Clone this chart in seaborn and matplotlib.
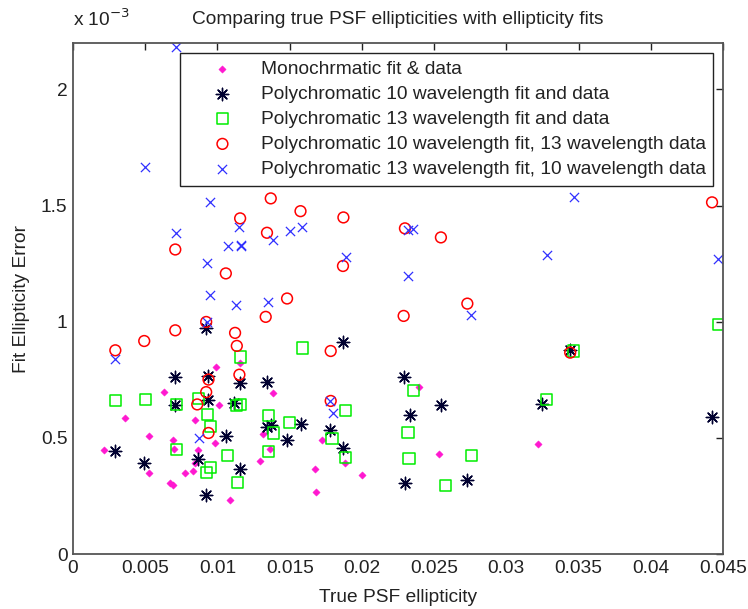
import matplotlib
matplotlib.use("Agg")
import matplotlib.pyplot as plt
import seaborn as sns

# ---- data (y values in units of 1e-3) ----
mono_x = [0.00217, 0.00362, 0.00528, 0.00528, 0.00631, 0.00673, 0.0069, 0.00692, 0.00696, 0.00777,
          0.0083, 0.00846, 0.00846, 0.00862, 0.00984, 0.00991, 0.01008, 0.01088, 0.01155, 0.01293,
          0.01316, 0.01362, 0.01385, 0.01674, 0.0168, 0.01724, 0.01886, 0.02001, 0.02395, 0.02533, 0.0322]
mono_y = [0.446, 0.587, 0.506, 0.350, 0.697, 0.307, 0.295, 0.489, 0.453, 0.350,
          0.356, 0.575, 0.391, 0.446, 0.478, 0.805, 0.643, 0.231, 0.822, 0.399,
          0.515, 0.450, 0.693, 0.364, 0.269, 0.489, 0.391, 0.338, 0.719, 0.429, 0.472]

p10_x = [0.00293, 0.00493, 0.00708, 0.00708, 0.00862, 0.00922, 0.00922, 0.00938, 0.00938, 0.0106,
         0.01118, 0.01153, 0.01157, 0.0134, 0.01344, 0.01374, 0.01482, 0.01575, 0.01782, 0.01869,
         0.01869, 0.02289, 0.023, 0.02335, 0.0255, 0.0273, 0.03246, 0.03444, 0.04424]
p10_y = [0.443, 0.391, 0.762, 0.640, 0.407, 0.971, 0.256, 0.765, 0.665, 0.506,
         0.652, 0.736, 0.364, 0.547, 0.741, 0.554, 0.489, 0.558, 0.532, 0.913,
         0.458, 0.762, 0.307, 0.597, 0.643, 0.317, 0.644, 0.877, 0.590]

p13_x = [0.00293, 0.0050, 0.00714, 0.00714, 0.00869, 0.00922, 0.00931, 0.0095, 0.0095, 0.0107,
         0.01129, 0.01139, 0.01162, 0.01162, 0.01355, 0.01355, 0.01385, 0.01496, 0.01586, 0.01793,
         0.01886, 0.01886, 0.02319, 0.02326, 0.02358, 0.02577, 0.02757, 0.0328, 0.03465, 0.04467]
p13_y = [0.659, 0.666, 0.644, 0.450, 0.669, 0.350, 0.601, 0.550, 0.372, 0.425,
         0.640, 0.307, 0.848, 0.644, 0.597, 0.442, 0.521, 0.568, 0.887, 0.498,
         0.619, 0.417, 0.525, 0.413, 0.705, 0.295, 0.425, 0.666, 0.874, 0.988]

f10d13_x = [0.00293, 0.00493, 0.00708, 0.00708, 0.0086, 0.00922, 0.00922, 0.00938, 0.00938, 0.01058,
            0.01122, 0.01134, 0.01152, 0.01157, 0.01334, 0.01343, 0.01369, 0.01482, 0.01575, 0.01784,
            0.01784, 0.01869, 0.01872, 0.02289, 0.02298, 0.02547, 0.0273, 0.03442, 0.04424]
f10d13_y = [0.877, 0.917, 0.963, 1.311, 0.644, 0.999, 0.697, 0.751, 0.521, 1.208,
            0.952, 0.896, 0.772, 1.445, 1.021, 1.383, 1.531, 1.100, 1.476, 0.874,
            0.659, 1.240, 1.449, 1.025, 1.402, 1.363, 1.078, 0.867, 1.514]

f13d10_x = [0.00293, 0.0050, 0.00714, 0.00714, 0.00869, 0.00927, 0.00927, 0.0095, 0.0095, 0.0107,
            0.01129, 0.01146, 0.01164, 0.0116, 0.01353, 0.01388, 0.01499, 0.01584, 0.0178, 0.0180,
            0.01888, 0.02317, 0.02321, 0.02353, 0.02757, 0.0328, 0.0347, 0.04463]
f13d10_y = [0.838, 1.665, 2.184, 1.380, 0.499, 1.251, 0.997, 1.516, 1.117, 1.325,
            1.074, 1.409, 1.330, 1.326, 1.083, 1.351, 1.390, 1.406, 0.660, 0.607,
            1.277, 1.394, 1.197, 1.399, 1.031, 1.287, 1.538, 1.268]

labels = ["Monochrmatic fit & data",
          "Polychromatic 10 wavelength fit and data",
          "Polychromatic 13 wavelength fit and data",
          "Polychromatic 10 wavelength fit, 13 wavelength data",
          "Polychromatic 13 wavelength fit, 10 wavelength data"]

x_ticks = [0, 0.005, 0.01, 0.015, 0.02, 0.025, 0.03, 0.035, 0.04, 0.045]
x_tick_labels = ["0", "0.005", "0.01", "0.015", "0.02", "0.025", "0.03", "0.035", "0.04", "0.045"]
y_ticks = [0, 0.5, 1, 1.5, 2]
y_tick_labels = ["0", "0.5", "1", "1.5", "2"]

# ---- style ----
sns.set_style("white")
plt.rcParams["font.family"] = ["Liberation Sans", "DejaVu Sans"]
plt.rcParams["xtick.direction"] = "in"
plt.rcParams["ytick.direction"] = "in"

FS = 13.8
TXT = "#222222"

fig = plt.figure(figsize=(7.48, 6.09), dpi=100)
ax = fig.add_axes([0.0976, 0.0903, 0.869, 0.8391])

sns.scatterplot(x=mono_x, y=mono_y, ax=ax, marker="D", s=14, color="#ff18d0",
                edgecolor="#ff18d0", linewidth=0.3, label=labels[0])
sns.scatterplot(x=p10_x, y=p10_y, ax=ax, marker=(8, 2, 0), s=80, color="#000030",
                linewidth=1.0, label=labels[1])
sns.scatterplot(x=p13_x, y=p13_y, ax=ax, marker="s", s=64, facecolor="none",
                edgecolor="#00ee00", linewidth=1.1, label=labels[2])
sns.scatterplot(x=f10d13_x, y=f10d13_y, ax=ax, marker="o", s=60, facecolor="none",
                edgecolor="#ff0000", linewidth=1.1, label=labels[3])
sns.scatterplot(x=f13d10_x, y=f13d10_y, ax=ax, marker="x", s=44, color="#3030ff",
                linewidth=0.9, label=labels[4])

ax.set_xlim(0, 0.045)
ax.set_ylim(0, 2.2)
ax.set_xticks(x_ticks)
ax.set_xticklabels(x_tick_labels)
ax.set_yticks(y_ticks)
ax.set_yticklabels(y_tick_labels)
ax.tick_params(top=True, right=True, length=5, width=1, labelsize=FS, colors=TXT, pad=4)
for sp in ax.spines.values():
    sp.set_color("#555555")
    sp.set_linewidth(1.3)

ax.set_xlabel("True PSF ellipticity", fontsize=FS, color=TXT, labelpad=9)
ax.set_ylabel("Fit Ellipticity Error", fontsize=FS, color=TXT, labelpad=8)
ax.set_title("Comparing true PSF ellipticities with ellipticity fits", fontsize=FS,
             color=TXT, pad=14)
ax.text(0.0, 1.025, r"x 10$^{-3}$", transform=ax.transAxes, fontsize=FS,
        color=TXT, ha="left", va="bottom")

leg = ax.legend(loc="upper right", fontsize=FS, frameon=True, fancybox=False,
                edgecolor="#222222", framealpha=1, borderaxespad=0.5,
                handletextpad=0.2, handlelength=3.6, labelspacing=0.4, borderpad=0.4)
leg.get_frame().set_linewidth(1.0)
for t in leg.get_texts():
    t.set_color(TXT)

fig.savefig("out.png", dpi=100)
